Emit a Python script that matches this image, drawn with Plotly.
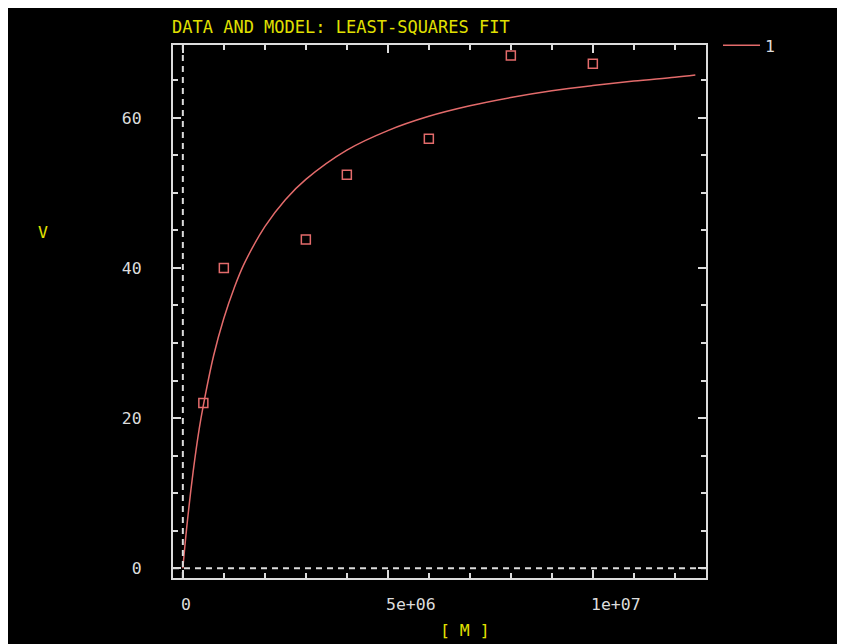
import plotly.graph_objects as go

# Data points (M, V)
data_m = [0.5e6, 1.0e6, 3.0e6, 4.0e6, 6.0e6, 8.0e6, 10.0e6]
data_v = [22.0, 40.0, 43.8, 52.4, 57.2, 68.3, 67.2]

# Model curve
model_m = [0, 0.1e6, 0.25e6, 0.4e6, 0.5e6, 0.75e6, 1.0e6, 1.25e6, 1.5e6, 2.0e6, 2.5e6,
           3.0e6, 4.0e6, 5.0e6, 6.0e6, 7.0e6, 8.0e6, 9.0e6, 10.0e6, 11.0e6, 12.0e6, 12.5e6]
model_v = [0.0, 5.7, 12.8, 18.6, 21.7, 28.3, 33.3, 37.3, 40.6, 45.5, 49.1,
           51.8, 55.7, 58.3, 60.2, 61.6, 62.7, 63.6, 64.3, 64.9, 65.4, 65.7]

x_ticks = [0, 5e6, 1e7]
x_tick_labels = ["0", "5e+06", "1e+07"]
y_ticks = [0, 20, 40, 60]
y_tick_labels = ["0", "20", "40", "60"]

FONT = "DejaVu Sans Mono"
YELLOW = "#e0e000"
WHITE = "#dcdcdc"
RED = "#e36b6b"
FS = 16.5

fig = go.Figure()
fig.add_trace(go.Scatter(x=model_m, y=model_v, mode="lines", name="1",
                         line=dict(color=RED, width=1.5, shape="spline"),
                         showlegend=True))
fig.add_trace(go.Scatter(x=data_m, y=data_v, mode="markers", name="data",
                         marker=dict(symbol="square-open", size=9, color=RED,
                                     line=dict(color=RED, width=1.5)),
                         showlegend=False))

# zero axes (dashed)
fig.add_shape(type="line", xref="x", yref="paper", x0=0, x1=0, y0=0, y1=1,
              line=dict(color=WHITE, width=2, dash="6px,5px"))
fig.add_shape(type="line", xref="paper", yref="y", x0=0, x1=1, y0=0, y1=0,
              line=dict(color=WHITE, width=2, dash="6px,5px"))

# x tick labels, left-aligned at the tick like the reference
for xv, lab in zip(x_ticks, x_tick_labels):
    fig.add_annotation(x=xv, y=-0.05, xref="x", yref="paper", text=lab,
                       showarrow=False, xanchor="left", yanchor="middle",
                       xshift=-4, font=dict(family=FONT, size=FS, color=WHITE))

fig.add_annotation(x=-0.244, y=0.649, xref="paper", yref="paper", text="V",
                   showarrow=False, xanchor="center", yanchor="middle",
                   font=dict(family=FONT, size=FS, color=YELLOW))
fig.add_annotation(x=0.548, y=-0.0994, xref="paper", yref="paper", text="[ M ]",
                   showarrow=False, xanchor="center", yanchor="middle",
                   font=dict(family=FONT, size=FS, color=YELLOW))

fig.update_layout(
    width=845, height=644,
    paper_bgcolor="black", plot_bgcolor="black",
    margin=dict(l=165, r=147, t=37, b=74),
    title=dict(text="DATA AND MODEL: LEAST-SQUARES FIT", x=164 / 845, xanchor="left",
               y=1 - 19 / 644, yanchor="middle", xref="container", yref="container",
               font=dict(family=FONT, size=17, color=YELLOW)),
    legend=dict(x=1.0225, y=1.032, xanchor="left", yanchor="top",
                bgcolor="rgba(0,0,0,0)", itemwidth=37,
                font=dict(family=FONT, size=FS, color=WHITE)),
    xaxis=dict(range=[-0.24e6, 12.76e6], tickvals=x_ticks, showticklabels=False,
               ticks="inside", ticklen=8, tickwidth=1.5, tickcolor=WHITE,
               minor=dict(dtick=1e6, tick0=0, ticks="inside", ticklen=5,
                          tickwidth=1.5, tickcolor=WHITE, showgrid=False),
               showline=True, linecolor=WHITE, linewidth=2, mirror="allticks",
               showgrid=False, zeroline=False),
    yaxis=dict(range=[-1.3, 69.7], tickvals=y_ticks, ticktext=y_tick_labels,
               ticks="inside", ticklen=8, tickwidth=1.5, tickcolor=WHITE,
               ticklabelstandoff=26,
               tickfont=dict(family=FONT, size=FS, color=WHITE),
               minor=dict(dtick=5, tick0=0, ticks="inside", ticklen=5,
                          tickwidth=1.5, tickcolor=WHITE, showgrid=False),
               showline=True, linecolor=WHITE, linewidth=2, mirror="allticks",
               showgrid=False, zeroline=False),
)

fig.write_html("out.html")
